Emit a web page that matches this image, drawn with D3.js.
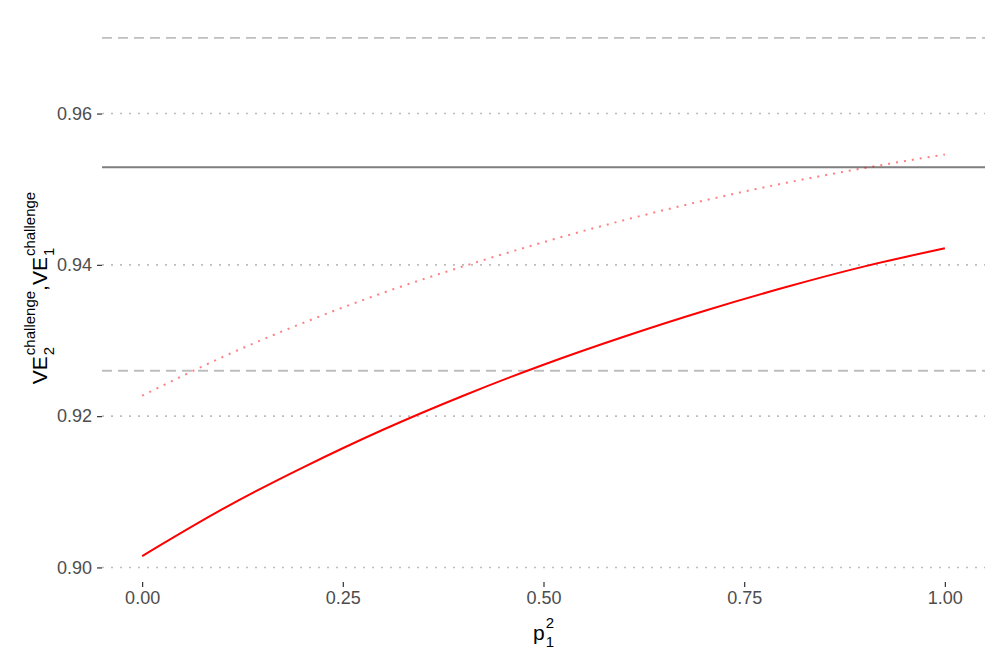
<!DOCTYPE html>
<html>
<head>
<meta charset="utf-8">
<script src="https://cdn.jsdelivr.net/npm/d3@7"></script>
<style>
  body { margin: 0; background: #fff; }
  text { font-family: "Liberation Sans", Arial, Helvetica, sans-serif; }
</style>
</head>
<body>
<svg id="chart"></svg>
<script>
// values
const p1 = [0, 0.1, 0.2, 0.3, 0.4, 0.5, 0.6, 0.7, 0.8, 0.9, 1.0];
const ve2 = [0.9015, 0.9077, 0.9132, 0.9182, 0.9227, 0.9268, 0.9305, 0.9339, 0.9370, 0.9398, 0.9422];
const ve1 = [0.9227, 0.9278, 0.9323, 0.9363, 0.9398, 0.9430, 0.9459, 0.9485, 0.9508, 0.9528, 0.9546];
const dashedRefs = [0.970, 0.926];
const solidRefs = [0.9529];
const xTicks = [0, 0.25, 0.5, 0.75, 1];
const yTicks = [0.90, 0.92, 0.94, 0.96];

const width = 997, height = 664;
const panel = { left: 102, right: 985, top: 12, bottom: 582 };

const svg = d3.select('#chart').attr('width', width).attr('height', height);

// scales: data x [-0.05,1.05], y expanded 5% over all lines
const xScale = d3.scaleLinear().domain([-0.05, 1.05]).range([panel.left, panel.right]);
const allY = ve1.concat(ve2, dashedRefs, solidRefs);
const yMin = d3.min(allY), yMax = d3.max(allY), pad = (yMax - yMin) * 0.05;
const yScale = d3.scaleLinear().domain([yMin - pad, yMax + pad]).range([panel.bottom, panel.top]);

// horizontal grid (dotted)
svg.append('g').selectAll('line')
  .data(yTicks)
  .join('line')
    .attr('x1', panel.left).attr('x2', panel.right)
    .attr('y1', d => yScale(d)).attr('y2', d => yScale(d))
    .attr('stroke', '#bdbdbd')
    .attr('stroke-width', 1.6)
    .attr('stroke-dasharray', '2,7');

// reference lines
svg.append('g').selectAll('line')
  .data(dashedRefs)
  .join('line')
    .attr('x1', panel.left).attr('x2', panel.right)
    .attr('y1', d => yScale(d)).attr('y2', d => yScale(d))
    .attr('stroke', '#bebebe')
    .attr('stroke-width', 1.8)
    .attr('stroke-dasharray', '10,6');

svg.append('g').selectAll('line')
  .data(solidRefs)
  .join('line')
    .attr('x1', panel.left).attr('x2', panel.right)
    .attr('y1', d => yScale(d)).attr('y2', d => yScale(d))
    .attr('stroke', '#7f7f7f')
    .attr('stroke-width', 2);

// curves
const line = d3.line()
  .x((d, i) => xScale(p1[i]))
  .y(d => yScale(d))
  .curve(d3.curveNatural);

svg.append('path')
  .attr('d', line(ve1))
  .attr('fill', 'none')
  .attr('stroke', '#ff0000')
  .attr('stroke-opacity', 0.5)
  .attr('stroke-width', 2)
  .attr('stroke-dasharray', '2,6');

svg.append('path')
  .attr('d', line(ve2))
  .attr('fill', 'none')
  .attr('stroke', '#ff0000')
  .attr('stroke-width', 2);

// axes
const xAxis = d3.axisBottom(xScale).tickValues(xTicks).tickFormat(d3.format('.2f')).tickSize(5).tickPadding(4);
const yAxis = d3.axisLeft(yScale).tickValues(yTicks).tickFormat(d3.format('.2f')).tickSize(5).tickPadding(5);

const xAxisG = svg.append('g')
  .attr('transform', `translate(0,${panel.bottom})`)
  .call(xAxis);
const yAxisG = svg.append('g')
  .attr('transform', `translate(${panel.left},0)`)
  .call(yAxis);

[xAxisG, yAxisG].forEach(g => {
  g.select('.domain').remove();
  g.selectAll('.tick line').attr('stroke', '#333').attr('stroke-width', 1.2);
  g.selectAll('.tick text')
    .attr('fill', '#4d4d4d')
    .style('font-size', '18px')
    .style('font-family', '"Liberation Sans", Arial, sans-serif');
});

// plotmath-ish label: base with stacked sub/sup
function mathLabel(g, parts, baseSize, smallSize) {
  let x = 0;
  parts.forEach(p => {
    const b = g.append('text').attr('x', x).attr('y', 0)
      .style('font-size', baseSize + 'px').text(p.base);
    x += b.node().getComputedTextLength();
    let w = 0;
    if (p.sup) {
      const s = g.append('text').attr('x', x + 1).attr('y', -baseSize * 0.55)
        .style('font-size', smallSize + 'px').text(p.sup);
      w = Math.max(w, s.node().getComputedTextLength() + 1);
    }
    if (p.sub) {
      const s = g.append('text').attr('x', x + 1).attr('y', baseSize * 0.33)
        .style('font-size', smallSize + 'px').text(p.sub);
      w = Math.max(w, s.node().getComputedTextLength() + 1);
    }
    x += w;
  });
  return x;
}

// x title
const xt = svg.append('g');
const xw = mathLabel(xt, [{ base: 'p', sub: '1', sup: '2' }], 21, 15);
xt.attr('transform', `translate(${(panel.left + panel.right) / 2 - xw / 2},640)`);

// y title
const yt = svg.append('g');
const yw = mathLabel(yt, [
  { base: 'VE', sub: '2', sup: 'challenge' },
  { base: ',' },
  { base: 'VE', sub: '1', sup: 'challenge' }
], 21, 15);
yt.attr('transform', `translate(47,${288 + yw / 2}) rotate(-90)`);
</script>
</body>
</html>
